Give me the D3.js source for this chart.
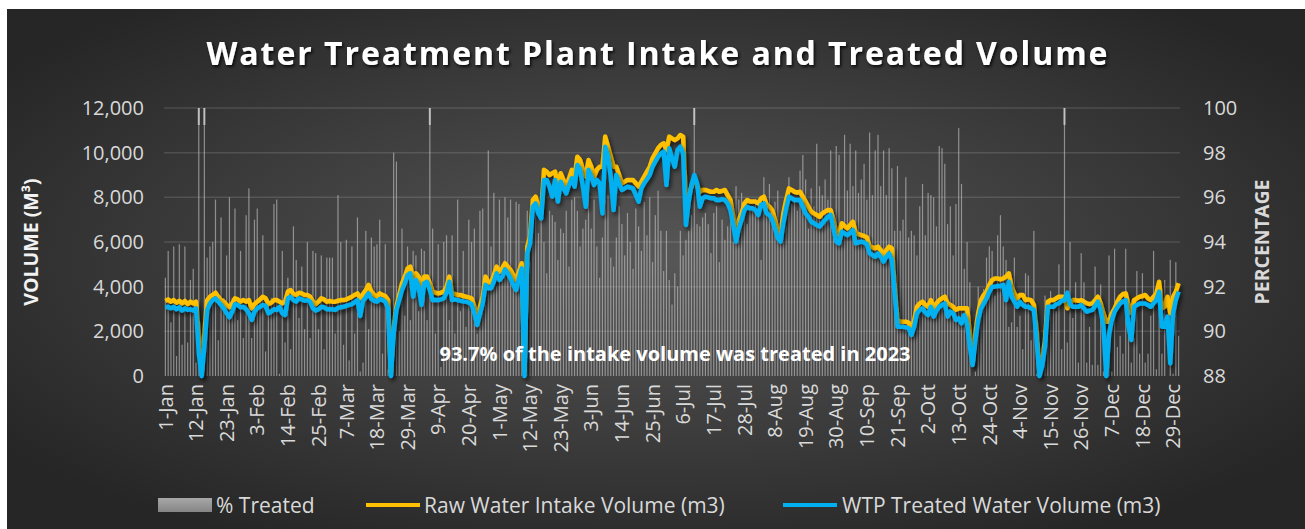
<!DOCTYPE html>
<html>
<head>
<meta charset="utf-8">
<script src="https://cdn.jsdelivr.net/npm/d3@7"></script>
<style>
  body { margin: 0; background: #ffffff; }
  svg text { font-family: "Open Sans", sans-serif; }
</style>
</head>
<body>
<svg id="vis" width="1305" height="529"></svg>
<script>
// daily values for 2023, one row per month
const rawIntake = [
  3360,3430,3330,3400,3280,3370,3250,3360,3220,3330,3250,3330,1910,80,1910,3400,3550,3630,3730,3550,3400,3330,3180,3080,3250,3480,3430,3330,3400,3330,3400,
  3030,3220,3330,3430,3550,3480,3220,3280,3400,3400,3330,3250,3330,3780,3850,3670,3630,3730,3700,3630,3630,3550,3330,3220,3330,3480,3430,3330,
  3360,3330,3330,3370,3400,3400,3430,3490,3550,3630,3700,3480,3670,3850,4080,3780,3630,3550,3700,3630,3580,3400,150,2210,3110,3630,4150,4450,4820,4900,4300,
  4600,4450,4000,4450,4450,4150,3780,3730,3700,3730,3780,4000,4450,3700,3670,3630,3630,3580,3550,3520,3480,3100,2660,3100,3550,4450,4220,4150,4520,4900,
  4670,4820,5050,4900,4750,4520,4300,4670,5050,200,5790,6240,7880,8030,7580,7280,9230,9150,9000,9080,9150,8480,9080,8780,8480,8850,9230,8930,9820,9670,9230,
  8930,9670,9370,8930,9230,9370,9370,10720,10270,9820,9370,9370,9000,8630,8700,8780,8780,8780,8630,8480,8700,8930,9150,9370,9750,9970,10200,10350,10420,10120,
  10720,10640,10570,10640,10790,10720,7880,8100,8480,8780,8550,8250,8330,8330,8290,8250,8250,8330,8250,8290,8330,8100,7880,7130,6390,6990,7280,7730,7880,7810,7810,
  7810,7730,7960,8030,7660,7580,7430,6990,6460,6310,7280,7880,8400,8330,8250,8210,8250,8030,7810,7580,7360,7280,7210,7130,7280,7360,7430,7430,6990,6390,6310,
  6840,6720,6610,6760,6910,6390,6350,6310,6270,6210,5790,5760,5720,5790,5640,5420,5640,5790,5720,4000,2510,2430,2430,2430,2390,2060,2510,3100,3250,3330,
  3180,3100,3400,3030,3250,3400,3480,3550,3250,3180,3100,2960,3030,3030,3030,3030,1910,570,1910,2810,3400,3630,3780,4080,4300,4370,4370,4330,4370,4450,4600,
  4000,3700,3480,3630,3630,3400,3430,3400,3180,2060,150,750,1610,3330,3400,3400,3480,3550,3550,3550,3030,3250,3400,3400,3370,3400,3330,3250,3220,3250,
  3400,3550,3250,2810,2430,2430,2810,3030,3330,3550,3670,3700,3180,2810,3400,3480,3550,3580,3630,3480,3400,3550,3700,4220,3030,3100,3550,2810,3550,3780,4150
];

const treatedVolume = [
  3080,3100,3030,3100,2990,3080,2930,3030,2960,2990,2930,3030,1020,0,1310,2960,3250,3400,3480,3330,3180,3030,2810,2630,2880,3220,3180,3080,3100,2990,2810,
  2510,2880,3030,3100,3180,3140,2810,2880,2990,2960,3100,2810,2730,3480,3550,3400,3330,3480,3430,3370,3400,3330,3030,2930,2990,3100,3080,2990,
  2990,2990,2960,3050,3080,3100,3140,3180,3220,3310,3400,2690,3370,3520,3700,3450,3370,3330,3450,3400,3330,3030,0,1910,2960,3400,3850,4150,4520,4600,3550,
  4300,4000,3180,4150,4220,3850,3400,3400,3400,3430,3480,3730,4220,3400,3430,3400,3370,3340,3330,3280,3220,2810,2280,2780,3250,4080,3930,3930,4220,4600,
  4300,4450,4780,4600,4370,4080,3850,4370,4820,0,5490,5940,7580,7730,7280,7060,8780,8780,8480,8030,8780,7810,8700,8400,8180,8550,8850,8480,9450,9230,8480,
  7580,9230,8930,8550,8780,8630,7280,10270,9820,8930,7430,9000,8630,8330,8400,8480,8440,8400,8100,7810,8400,8630,8810,9000,9370,9600,9820,9970,10050,8550,
  10200,9750,9370,10120,10270,9970,6760,7810,8550,9000,8630,7580,7960,8030,8000,7960,7960,7880,7880,7920,7880,7730,7430,6760,6020,6610,6990,7430,7580,7510,7510,
  7430,7210,7660,7730,7280,7210,6990,6610,6170,6020,6840,7510,8030,7960,7880,7880,7880,7580,7280,7130,6910,6840,6760,6690,6840,6990,7130,7210,6610,6020,5940,
  6460,6390,6310,6420,6540,5940,5980,6020,5980,5910,5490,5420,5340,5490,5340,5120,5340,5490,5190,3700,2210,2210,2210,2180,2140,1840,2210,2810,2960,3030,
  2840,2730,3100,2660,2930,3100,3180,3250,2660,2880,2810,2510,2580,2360,2730,2360,1310,490,1610,2510,3030,3250,3480,3780,4000,4000,4030,4030,4080,3400,4220,
  3550,3330,3100,3330,3180,3100,3100,3030,2960,1610,0,450,1310,3100,3100,3100,3220,3250,3370,3400,3730,3220,3100,3100,3100,3180,3030,2880,2930,2960,
  3140,3330,2960,2210,0,1840,2510,2880,3080,3250,3340,3400,2210,1610,3100,3180,3250,3250,3250,3180,3100,3250,3400,3780,2210,2210,2660,570,2810,3400,3780
];

const pctTreated = [
  92.4,93.6,90.4,93.8,88.9,93.9,89.4,93.8,89.5,92.3,92.8,88.6,101,88.0,101,93.3,93.8,94.0,95.9,89.6,95.1,91.5,93.4,96.0,91.5,95.5,90.5,93.6,89.7,95.2,96.4,
  89.7,95.0,95.5,91.5,94.3,89.1,91.2,91.5,95.7,95.9,88.1,93.6,89.5,92.4,89.2,94.7,93.2,90.6,92.9,90.1,94.0,89.7,93.6,93.5,90.1,93.4,89.2,93.3,
  93.3,93.3,89.9,96.1,94.0,89.4,94.1,88.7,93.8,89.9,95.1,88.2,88.6,94.5,90.1,94.2,93.8,93.9,95.0,89.0,93.9,88.3,88.0,98.0,97.6,90.0,94.6,90.7,93.8,90.5,93.6,
  93.4,90.9,93.7,93.6,90.5,101,94.6,89.9,93.9,88.4,94.0,94.3,90.5,94.3,89.9,95.9,90.9,93.6,90.2,95.0,94.0,94.6,89.9,95.4,95.5,91.2,98.1,93.8,96.2,92.0,
  95.9,93.0,96.0,95.1,95.9,92.3,95.8,95.7,92.8,88.0,95.4,93.1,95.1,95.9,94.4,95.0,94.0,92.6,95.4,95.2,94.9,93.2,94.6,94.4,95.4,92.9,95.9,96.0,95.4,93.8,94.6,
  95.0,96.2,94.6,95.9,93.8,92.4,94.2,95.9,96.1,93.3,92.9,94.2,95.6,94.8,93.4,95.3,94.0,92.8,95.5,94.7,93.6,95.8,94.3,96.0,93.1,95.2,96.3,94.5,92.7,94.5,
  92.3,91.2,92.6,92.0,94.5,93.4,94.1,94.5,95.2,101,94.8,94.7,95.1,95.3,94.8,93.5,95.3,95.6,93.1,95.0,94.1,94.7,95.1,94.0,96.5,95.9,96.2,95.7,94.8,95.6,95.4,
  95.9,95.8,93.2,96.9,95.7,96.6,95.0,95.8,96.3,95.0,95.6,94.7,96.9,95.7,95.8,95.4,97.2,97.9,96.8,94.6,96.4,95.6,98.4,96.5,96.1,96.8,95.9,98.1,95.2,98.3,97.9,
  94.8,98.8,96.3,98.4,96.5,98.1,96.2,96.8,97.5,95.9,98.9,96.1,98.1,98.8,96.5,98.1,96.1,98.2,97.3,94.5,97.4,94.5,95.0,96.9,94.2,94.5,94.3,93.4,95.6,96.6,
  94.3,96.2,96.1,96.0,94.7,98.3,98.2,97.5,94.8,95.6,93.4,95.7,99.1,96.6,92.8,94.0,92.2,88.0,88.2,92.0,90.8,91.9,93.3,93.8,93.6,91.6,94.3,95.2,93.8,93.2,90.2,
  90.4,93.3,90.2,90.7,89.2,92.6,92.5,89.6,94.5,88.1,88.0,88.3,91.6,89.9,91.8,91.0,90.9,93.0,89.2,101,89.5,94.0,90.6,92.2,88.6,93.5,92.2,88.6,90.2,88.5,
  92.9,88.5,92.1,88.2,88.0,93.4,88.2,93.7,89.3,89.8,89.0,93.7,90.7,88.6,89.7,92.7,89.0,92.6,88.6,89.0,90.7,93.6,88.3,91.3,89.0,92.3,88.0,93.2,88.1,93.1,89.8
];

const tickLabels = ['1-Jan','12-Jan','23-Jan','3-Feb','14-Feb','25-Feb','7-Mar','18-Mar','29-Mar',
  '9-Apr','20-Apr','1-May','12-May','23-May','3-Jun','14-Jun','25-Jun','6-Jul','17-Jul','28-Jul',
  '8-Aug','19-Aug','30-Aug','10-Sep','21-Sep','2-Oct','13-Oct','24-Oct','4-Nov','15-Nov','26-Nov',
  '7-Dec','18-Dec','29-Dec'];
const volumeTicks = [0, 2000, 4000, 6000, 8000, 10000, 12000];
const pctTicks = [88, 90, 92, 94, 96, 98, 100];

const seriesNames = ['% Treated', 'Raw Water Intake Volume (m3)', 'WTP Treated Water Volume (m3)'];
const annotation = '93.7% of the intake volume was treated in 2023';

// categories: every day of 2023
const fmt = d3.timeFormat('%-d-%b');
const days = d3.timeDay.range(new Date(2023, 0, 1), new Date(2024, 0, 1)).map(fmt);

const vis = d3.select('#vis');
const plot = { left: 164, right: 1180, top: 108, bottom: 376 };

const defs = vis.append('defs');
const bg = defs.append('radialGradient').attr('id', 'bg')
  .attr('cx', '50%').attr('cy', '48%').attr('r', '62%');
bg.append('stop').attr('offset', '0%').attr('stop-color', '#575757');
bg.append('stop').attr('offset', '100%').attr('stop-color', '#262626');

const sw = defs.append('linearGradient').attr('id', 'swatch')
  .attr('x1', 0).attr('y1', 0).attr('x2', 0).attr('y2', 1);
sw.append('stop').attr('offset', '0%').attr('stop-color', '#a8a8a8');
sw.append('stop').attr('offset', '100%').attr('stop-color', '#858585');

const shadow = defs.append('filter').attr('id', 'shadow')
  .attr('x', '-5%').attr('y', '-5%').attr('width', '110%').attr('height', '115%');
shadow.append('feDropShadow').attr('dx', 2).attr('dy', 3).attr('stdDeviation', 2)
  .attr('flood-color', '#000').attr('flood-opacity', 0.6);

const tshadow = defs.append('filter').attr('id', 'tshadow');
tshadow.append('feDropShadow').attr('dx', 1.5).attr('dy', 2).attr('stdDeviation', 1.5)
  .attr('flood-color', '#000').attr('flood-opacity', 0.8);

defs.append('clipPath').attr('id', 'clip').append('rect')
  .attr('x', plot.left).attr('y', plot.top)
  .attr('width', plot.right - plot.left).attr('height', plot.bottom - plot.top);

vis.append('rect').attr('x', 7).attr('y', 9).attr('width', 1298).attr('height', 520)
  .attr('fill', 'url(#bg)');

// scales
const x = d3.scaleBand().domain(days).range([plot.left, plot.right]);
const bw = x.bandwidth();
const yL = d3.scaleLinear().domain([0, 12000]).range([plot.bottom, plot.top]);
const yR = d3.scaleLinear().domain([88, 100]).range([plot.bottom, plot.top]);

// gridlines
vis.append('g').selectAll('line').data(volumeTicks.slice(1)).join('line')
  .attr('x1', plot.left).attr('x2', plot.right)
  .attr('y1', d => yL(d)).attr('y2', d => yL(d))
  .attr('stroke', '#ffffff').attr('stroke-opacity', 0.13).attr('stroke-width', 1.5);

// % treated bars
const bars = vis.append('g').attr('clip-path', 'url(#clip)');
bars.selectAll('rect').data(pctTreated).join('rect')
  .attr('x', (d, i) => x(days[i]) + bw / 2 - 0.6)
  .attr('width', 1.2)
  .attr('y', d => yR(Math.min(Math.max(d, 88), 100)))
  .attr('height', d => yR(88) - yR(Math.min(Math.max(d, 88), 100)))
  .attr('fill', '#c8c8c8').attr('fill-opacity', 0.6);
// clipped bars over 100 get a lighter cap
bars.selectAll('rect.cap').data(pctTreated.map((d, i) => ({ d, i })).filter(o => o.d > 100))
  .join('rect').attr('class', 'cap')
  .attr('x', o => x(days[o.i]) + bw / 2 - 1)
  .attr('width', 2)
  .attr('y', yR(100)).attr('height', 17)
  .attr('fill', '#d0d0d0').attr('fill-opacity', 0.8);

// volume lines
const line = d3.line().x((d, i) => x(days[i]) + bw / 2).y(d => yL(d));
vis.append('path').datum(rawIntake).attr('d', line)
  .attr('fill', 'none').attr('stroke', '#ffc000').attr('stroke-width', 4.5)
  .attr('stroke-linejoin', 'round').attr('filter', 'url(#shadow)');
vis.append('path').datum(treatedVolume).attr('d', line)
  .attr('fill', 'none').attr('stroke', '#00b0f0').attr('stroke-width', 4.5)
  .attr('stroke-linejoin', 'round').attr('filter', 'url(#shadow)');

// axes
const axL = vis.append('g').attr('transform', `translate(${plot.left - 20},0)`)
  .call(d3.axisLeft(yL).tickValues(volumeTicks).tickFormat(d3.format(',')).tickSize(0));
const axR = vis.append('g').attr('transform', `translate(${plot.right + 23},0)`)
  .call(d3.axisRight(yR).tickValues(pctTicks).tickSize(0));
const axB = vis.append('g').attr('transform', `translate(0,${plot.bottom + 8})`)
  .call(d3.axisBottom(x).tickValues(tickLabels).tickSize(0));
[axL, axR, axB].forEach(a => {
  a.select('.domain').remove();
  a.selectAll('text').attr('fill', '#d9d9d9').style('font-size', '20px')
    .style('font-family', '"Open Sans", sans-serif');
});
axL.selectAll('text').attr('x', 0);
axR.selectAll('text').attr('x', 0);
axB.selectAll('text')
  .attr('transform', 'rotate(-90)')
  .attr('text-anchor', 'end')
  .attr('x', 0).attr('y', 0).attr('dy', '0.36em');

// axis titles
vis.append('text').attr('transform', `translate(38,${(plot.top + plot.bottom) / 2}) rotate(-90)`)
  .attr('text-anchor', 'middle').attr('fill', '#f2f2f2')
  .style('font-size', '19.5px').style('font-weight', 700)
  .text('VOLUME (M³)');
vis.append('text').attr('transform', `translate(1269,${(plot.top + plot.bottom) / 2}) rotate(-90)`)
  .attr('text-anchor', 'middle').attr('fill', '#d9d9d9')
  .style('font-size', '19.5px').style('font-weight', 700)
  .text('PERCENTAGE');

// title
const title = vis.append('text').attr('x', 657).attr('y', 65)
  .attr('text-anchor', 'middle').attr('fill', '#ffffff')
  .style('font-size', '32px').style('font-weight', 700)
  .attr('filter', 'url(#tshadow)')
  .text('Water Treatment Plant Intake and Treated Volume');
const tw = title.node().getComputedTextLength();
const nChars = title.text().length;
const ls = (901 - tw) / (nChars - 1);
title.style('letter-spacing', ls + 'px').attr('x', 657 + ls / 2);

// annotation
vis.append('text').attr('x', 675).attr('y', 361)
  .attr('text-anchor', 'middle').attr('fill', '#ffffff')
  .style('font-size', '20px').style('font-weight', 700)
  .text(annotation);

// legend
const lg = vis.append('g').attr('transform', 'translate(0,505)');
lg.append('rect').attr('x', 158).attr('y', -7).attr('width', 54).attr('height', 14)
  .attr('fill', 'url(#swatch)');
lg.append('line').attr('x1', 366).attr('x2', 420).attr('stroke', '#ffc000').attr('stroke-width', 4);
lg.append('line').attr('x1', 783).attr('x2', 837).attr('stroke', '#00b0f0').attr('stroke-width', 4);
lg.selectAll('text').data(seriesNames).join('text')
  .attr('x', (d, i) => [216, 424, 842][i]).attr('y', 7.5)
  .attr('fill', '#d9d9d9').style('font-size', '21px')
  .text(d => d);
</script>
</body>
</html>
